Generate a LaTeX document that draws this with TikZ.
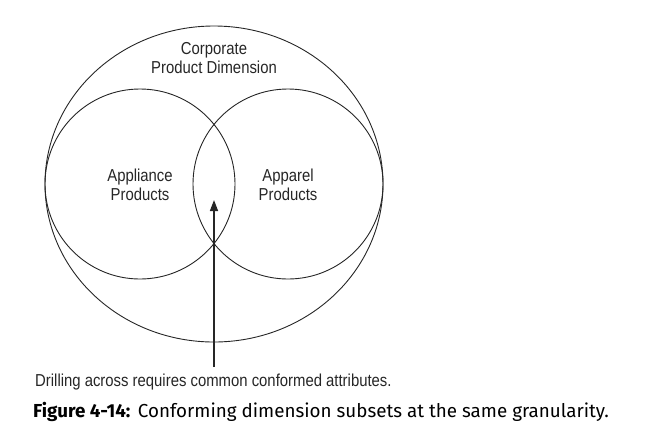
\documentclass[tikz,border=0pt]{standalone}
\usepackage{fontspec}
\setmainfont{Liberation Sans}[FakeStretch=0.86]
\newfontfamily\capfont{Fira Sans}
\usetikzlibrary{shapes.geometric,arrows.meta}
\begin{document}
\begin{tikzpicture}[x=1pt,y=-1pt,
  setline/.style={draw=black!85,line width=0.9pt,inner sep=0pt,outer sep=0pt},
  lbl/.style={font=\fontsize{17.3}{19}\selectfont,align=center,text=black!85,inner sep=0pt},
  captxt/.style={font=\capfont\fontsize{18.8}{22}\selectfont,anchor=west,inner sep=0pt}]
\useasboundingbox (0,0) rectangle (653,440);
\node[setline,ellipse,minimum width=338pt,minimum height=316pt] (corp) at (214,184) {};
\node[setline,circle,minimum size=190pt] (appl) at (140,184) {};
\node[setline,circle,minimum size=190pt] (appa) at (288,184) {};
\node[lbl] (corpt) at (214,58.5) {Corporate\\Product Dimension};
\node[lbl] (applt) at (140,184.5) {Appliance\\Products};
\node[lbl] (appat) at (288,184.5) {Apparel\\Products};
\coordinate (tail) at (214,367);
\coordinate (tip) at (214,200);
\draw[line width=1.4pt,black!85,-{Triangle[length=11pt,width=8pt]}] (tail) -- (tip);
\node[lbl,anchor=west] (drill) at (35,382) {Drilling across requires common conformed attributes.};
\node[captxt] (cap) at (33,412) {\textbf{Figure 4-14:}\hspace{0.4em}Conforming dimension subsets at the same granularity.};
\end{tikzpicture}
\end{document}
